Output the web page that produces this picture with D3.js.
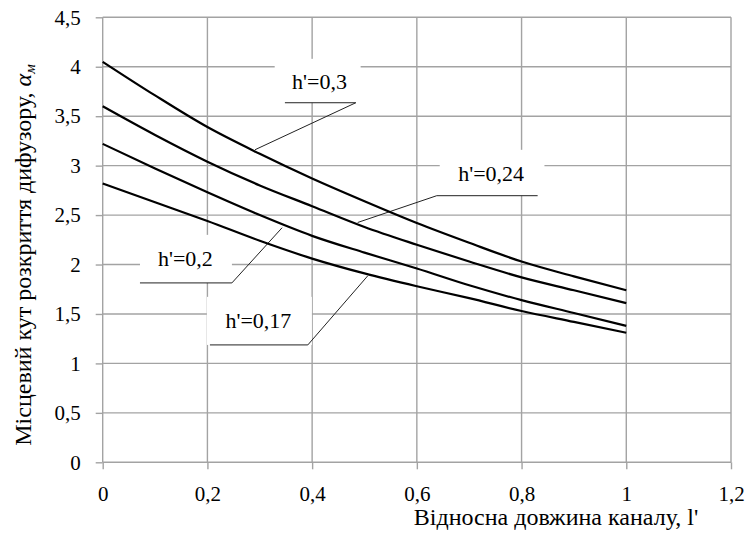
<!DOCTYPE html>
<html>
<head>
<meta charset="utf-8">
<script src="https://cdn.jsdelivr.net/npm/d3@7"></script>
</head>
<body style="margin:0">
<svg width="749" height="543"></svg>
<script>
// relative channel length l'
var lengths = [0, 0.1, 0.2, 0.3, 0.4, 0.5, 0.6, 0.7, 0.8, 0.9, 1];

// local opening angle for each h'
var h030 = [4.05, 3.71, 3.39, 3.12, 2.87, 2.64, 2.42, 2.22, 2.03, 1.88, 1.74];
var h024 = [3.60, 3.31, 3.04, 2.80, 2.59, 2.38, 2.20, 2.03, 1.87, 1.74, 1.61];
var h020 = [3.22, 2.97, 2.73, 2.50, 2.29, 2.12, 1.96, 1.79, 1.64, 1.51, 1.38];
var h017 = [2.82, 2.63, 2.44, 2.24, 2.06, 1.91, 1.78, 1.66, 1.53, 1.42, 1.31];

var xTicks = [0, 0.2, 0.4, 0.6, 0.8, 1, 1.2];
var yTicks = [0, 0.5, 1, 1.5, 2, 2.5, 3, 3.5, 4, 4.5];

// label text, text position, label box, leader elbow and tip (data units)
var labels = [
  { text: "h'=0,3",  tx: 0.414, ty: 3.77, bx0: 0.3285, bx1: 0.4926, by0: 4.08, by1: 3.636, lx0: 0.348,  lx1: 0.4834, px: 0.291, py: 3.161 },
  { text: "h'=0,24", tx: 0.742, ty: 2.84, bx0: 0.6437, bx1: 0.8437, by0: 3.16, by1: 2.696, lx0: 0.8307, lx1: 0.638,  px: 0.487, py: 2.425 },
  { text: "h'=0,2",  tx: 0.158, ty: 1.987, bx0: 0.0712, bx1: 0.2468, by0: 2.30, by1: 1.814, lx0: 0.0712, lx1: 0.2468, px: 0.3426, py: 2.372 },
  { text: "h'=0,17", tx: 0.2973, ty: 1.359, bx0: 0.199, bx1: 0.3995, by0: 1.673, by1: 1.187, lx0: 0.2048, lx1: 0.3918, px: 0.5063, py: 1.886 }
];

var serif = "'Liberation Serif'";

var svg = d3.select("svg"),
    margin = { left: 102.7, top: 17.3 },
    plotW = 628.3,
    plotH = 445,
    g = svg.append("g").attr("transform", "translate(" + margin.left + "," + margin.top + ")");

var x = d3.scaleLinear().domain([0, 1.2]).range([0, plotW]);
var y = d3.scaleLinear().domain([0, 4.5]).range([plotH, 0]);

var fmt = function (d) { return String(d).replace(".", ","); };
var gridColor = "#a3a3a3";

// grid
g.append("g").selectAll("line")
  .data(yTicks)
  .enter().append("line")
    .attr("x1", 0).attr("x2", plotW)
    .attr("y1", function (d) { return y(d); })
    .attr("y2", function (d) { return y(d); })
    .attr("stroke", gridColor).attr("stroke-width", 1.4);

g.append("g").selectAll("line")
  .data(xTicks)
  .enter().append("line")
    .attr("y1", 0).attr("y2", plotH)
    .attr("x1", function (d) { return x(d); })
    .attr("x2", function (d) { return x(d); })
    .attr("stroke", gridColor).attr("stroke-width", 1.4);

// axes
var xAxis = g.append("g")
    .attr("transform", "translate(0," + plotH + ")")
    .call(d3.axisBottom(x).tickValues(xTicks).tickFormat(fmt).tickSize(7).tickPadding(17));

var yAxis = g.append("g")
    .call(d3.axisLeft(y).tickValues(yTicks).tickFormat(fmt).tickSize(7).tickPadding(15));

[xAxis, yAxis].forEach(function (a) {
  a.attr("font-family", null).attr("font-size", null);
  a.select(".domain").remove();
  a.selectAll(".tick line").attr("stroke", gridColor).attr("stroke-width", 1.4);
  a.selectAll(".tick text")
    .attr("fill", "#000")
    .attr("font-size", 21)
    .style("font-family", serif);
});

// label boxes hide the grid behind them
var lab = g.append("g");
lab.selectAll("rect")
  .data(labels)
  .enter().append("rect")
    .attr("x", function (d) { return x(d.bx0); })
    .attr("y", function (d) { return y(d.by0); })
    .attr("width", function (d) { return x(d.bx1) - x(d.bx0); })
    .attr("height", function (d) { return y(d.by1) - y(d.by0); })
    .attr("fill", "#fff");

lab.selectAll("path")
  .data(labels)
  .enter().append("path")
    .attr("d", function (d) {
      return "M" + x(d.lx0) + "," + y(d.by1) + "L" + x(d.lx1) + "," + y(d.by1) + "L" + x(d.px) + "," + y(d.py);
    })
    .attr("fill", "none")
    .attr("stroke", "#222")
    .attr("stroke-width", 1);

lab.selectAll("text")
  .data(labels)
  .enter().append("text")
    .attr("x", function (d) { return x(d.tx); })
    .attr("y", function (d) { return y(d.ty); })
    .attr("text-anchor", "middle")
    .attr("font-size", 22)
    .style("font-family", serif)
    .text(function (d) { return d.text; });

// curves
var line = d3.line()
    .x(function (d, i) { return x(lengths[i]); })
    .y(function (d) { return y(d); })
    .curve(d3.curveMonotoneX);

g.append("g").selectAll("path")
  .data([h030, h024, h020, h017])
  .enter().append("path")
    .attr("d", line)
    .attr("fill", "none")
    .attr("stroke", "#000")
    .attr("stroke-width", 2.2);

// axis titles
svg.append("text")
    .attr("x", 556)
    .attr("y", 525)
    .attr("text-anchor", "middle")
    .attr("font-size", 24)
    .style("font-family", serif)
    .text("Відносна довжина каналу, l'");

var yt = svg.append("text")
    .attr("transform", "translate(31,255)rotate(-90)")
    .attr("text-anchor", "middle")
    .attr("font-size", 24)
    .style("font-family", serif);
yt.append("tspan").text("Місцевий кут розкриття дифузору, ");
yt.append("tspan").attr("font-style", "italic").text("α");
yt.append("tspan").attr("font-style", "italic").attr("font-size", 15).attr("dy", 4).text("м");
</script>
</body>
</html>
